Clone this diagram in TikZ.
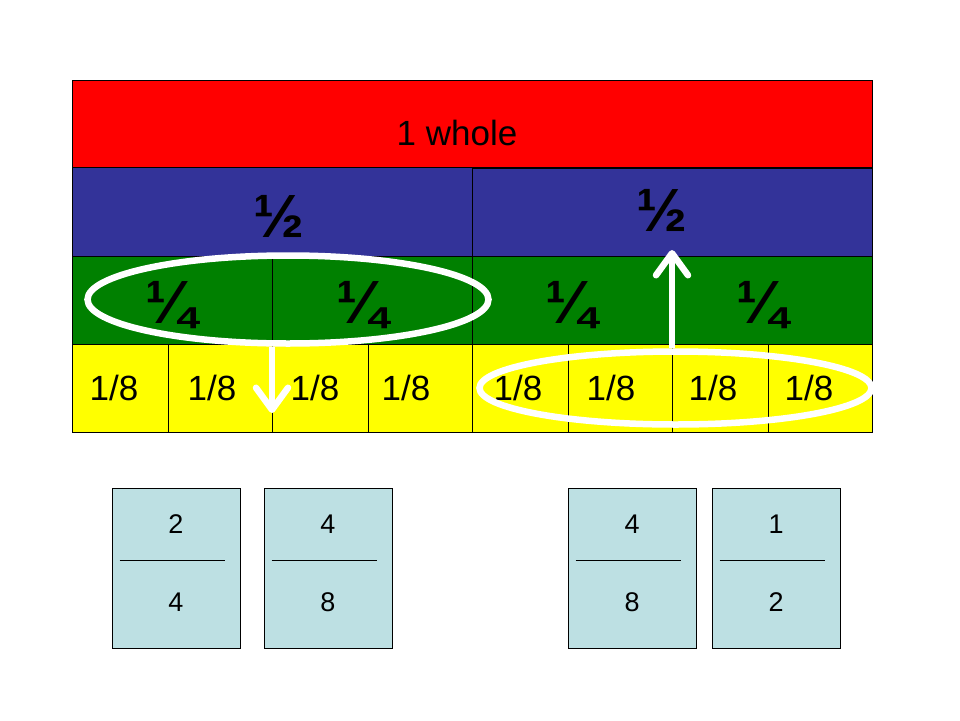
\documentclass[tikz,border=0pt]{standalone}
\usepackage{fontspec}
\setmainfont{Liberation Sans}
\usepackage{xcolor}
\usepackage{tikz}
\usetikzlibrary{arrows.meta,calc,positioning,shapes.geometric}

\definecolor{wholered}{RGB}{255,0,0}
\definecolor{halfblue}{RGB}{51,51,153}
\definecolor{quartgreen}{RGB}{0,128,0}
\definecolor{eighthyel}{RGB}{255,255,0}
\definecolor{cardblue}{RGB}{189,224,227}

\begin{document}
\begin{tikzpicture}[
    x=1pt,
    y=-1pt,
    bar/.style={draw=black,line width=0.8pt},
    lbl/.style={inner sep=0pt,font=\fontsize{35}{40}\selectfont},
    frac/.style={inner sep=0pt,font=\fontsize{61}{61}\selectfont\bfseries},
    card/.style={draw=black,line width=0.8pt,fill=cardblue,
                 minimum width=128,minimum height=160,inner sep=0pt},
    cardnum/.style={inner sep=0pt,font=\fontsize{27}{30}\selectfont},
    ring/.style={ellipse,draw=white,line width=6.5pt,inner sep=0pt},
    move/.style={-{Straight Barb[length=22pt,width=32pt,round]},
                 draw=white,line width=6.5pt}
]

\useasboundingbox (0,0) rectangle (960,720);

% bars
\filldraw[bar,fill=wholered] (72,80) rectangle (872,167);
\filldraw[bar,fill=halfblue] (72,167) rectangle (472,256);
\filldraw[bar,fill=halfblue] (472,168) rectangle (872,256);
\foreach \a/\b in {72/272,272/472,472/672,672/872}
    \filldraw[bar,fill=quartgreen] (\a,256) rectangle (\b,344);
\foreach \a/\b in {72/168,168/272,272/368,368/472,472/568,568/672,672/768,768/872}
    \filldraw[bar,fill=eighthyel] (\a,344) rectangle (\b,432);

\node[lbl] (whole) at (457,133) {1 whole};
\node[frac] (halfL) at (279,216) {½};
\node[frac] (halfR) at (662,210) {½};
\foreach \x [count=\i] in {171,362,571,762}
    \node[frac] (quart\i) at (\x,305) {¼};
\foreach \x [count=\i] in {114,212,315,406,518,611,713,809}
    \node[lbl] (eighth\i) at (\x,388) {1/8};

% rings and arrows
\node[ring,minimum width=401,minimum height=88] (ringL) at (288,299.5) {};
\node[ring,minimum width=392,minimum height=73] (ringR) at (675.5,388) {};

\coordinate (tipL) at (272,413);
\coordinate (tipR) at (672,250);
\draw[move] (ringL.south -| tipL) -- (tipL);
\draw[move] (ringR.north -| tipR) -- (tipR);

% cards
\node[card] (cardA) at (176,568) {};
\node[card] (cardB) at (328,568) {};
\node[card] (cardC) at (632,568) {};
\node[card] (cardD) at (776,568) {};

\foreach \c/\n/\d in {cardA/2/4,cardB/4/8,cardC/4/8,cardD/1/2}{
    \draw[line width=0.6pt] ($(\c.west)+(8,-8)$) -- ($(\c.east)+(-15,-8)$);
    \node[cardnum] (\c-num) at ($(\c.center)+(0,-44)$) {\n};
    \node[cardnum] (\c-den) at ($(\c.center)+(0,34)$) {\d};
}

\end{tikzpicture}
\end{document}
